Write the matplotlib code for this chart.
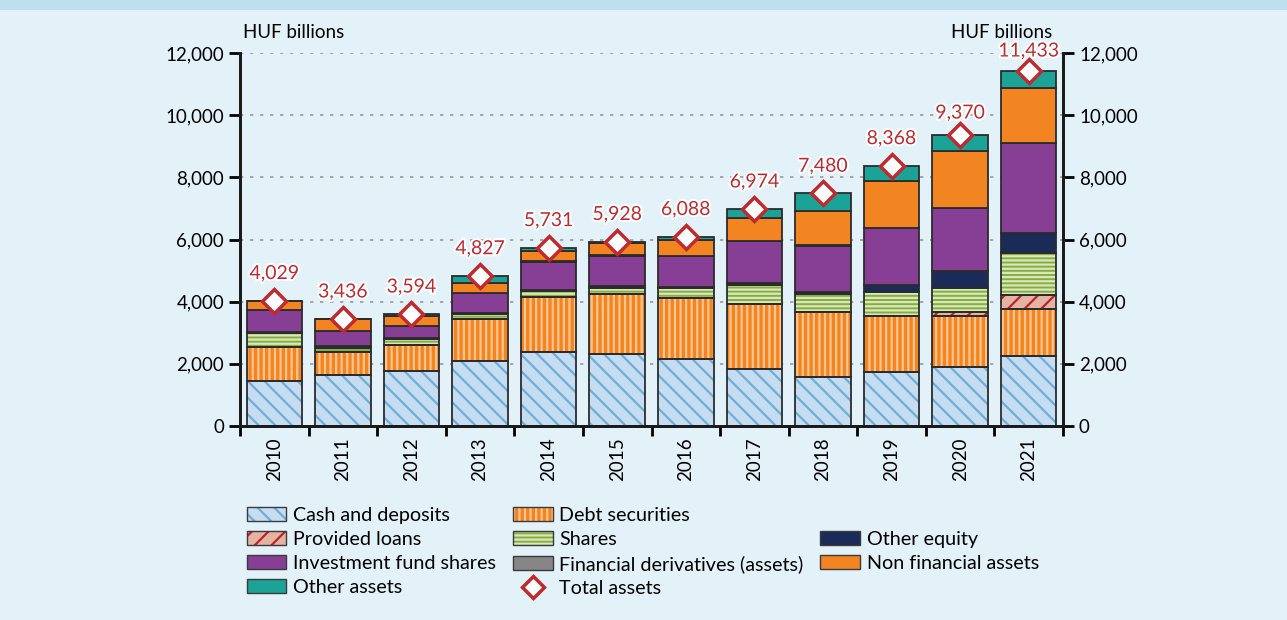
import matplotlib
matplotlib.use("Agg")
import matplotlib.pyplot as plt
import matplotlib.patheffects as pe
from matplotlib.patches import Rectangle
from matplotlib.lines import Line2D
from matplotlib.legend_handler import HandlerTuple
import numpy as np

plt.rcParams['font.family'] = ['Lato', 'DejaVu Sans']
plt.rcParams['hatch.linewidth'] = 1.6

years = ["2010", "2011", "2012", "2013", "2014", "2015", "2016", "2017", "2018", "2019", "2020", "2021"]

# HUF billions
cash = [1460, 1640, 1760, 2080, 2390, 2315, 2155, 1845, 1565, 1725, 1890, 2250]
debt = [1080, 740, 835, 1350, 1760, 1920, 1950, 2095, 2110, 1800, 1635, 1500]
loans = [0, 0, 0, 0, 0, 0, 0, 0, 0, 0, 130, 470]
shares = [440, 140, 195, 160, 190, 215, 325, 605, 580, 775, 795, 1330]
other_equity = [35, 40, 30, 40, 40, 40, 30, 40, 40, 245, 525, 670]
fund_shares = [720, 500, 400, 645, 910, 995, 1015, 1370, 1510, 1810, 2045, 2890]
derivatives = [5, 5, 5, 5, 5, 5, 5, 5, 5, 5, 5, 5]
non_fin = [290, 371, 320, 330, 330, 385, 500, 720, 1095, 1530, 1815, 1775]
other_assets = [0, 0, 49, 217, 106, 53, 108, 294, 575, 478, 530, 543]
totals = [4029, 3436, 3594, 4827, 5731, 5928, 6088, 6974, 7480, 8368, 9370, 11433]

# (label, values, face colour, hatch, hatch colour)
series = [
    ("Cash and deposits", cash, "#C6DCF0", "\\\\", "#6DAEDB"),
    ("Debt securities", debt, "#F5841F", "|||", "#FDC592"),
    ("Provided loans", loans, "#E4B3A2", "//", "#B8252B"),
    ("Shares", shares, "#86AD44", "----", "#D9E8B8"),
    ("Other equity", other_equity, "#1B2B57", "", None),
    ("Investment fund shares", fund_shares, "#873F95", "", None),
    ("Financial derivatives (assets)", derivatives, "#868686", "", None),
    ("Non financial assets", non_fin, "#F28522", "", None),
    ("Other assets", other_assets, "#1BA398", "", None),
]

bg = "#E3F1F9"
red = "#BF2A2E"
fs = 13.5

fig = plt.figure(figsize=(12.87, 6.2), dpi=100, facecolor=bg)
fig.patches.append(Rectangle((0, 1 - 10 / 620), 1, 10 / 620, transform=fig.transFigure,
                             facecolor="#BEDFF0", edgecolor="none"))
ax = fig.add_axes([240 / 1287, 1 - 426 / 620, 823 / 1287, 373 / 620])
ax.set_facecolor(bg)

x = np.arange(len(years))
w = 0.81
bottom = np.zeros(len(years))
handles = {}
for label, vals, fc, hatch, hc in series:
    vals = np.array(vals, dtype=float)
    if hatch:
        ax.bar(x, vals, w, bottom=bottom, color=fc, hatch=hatch, edgecolor=hc, linewidth=0, zorder=2)
        ax.bar(x, vals, w, bottom=bottom, fill=False, edgecolor="#2B2B2B", linewidth=1.3, zorder=3)
        face = Rectangle((0, 0), 1, 1, facecolor=fc, hatch=hatch, edgecolor=hc, linewidth=0)
        edge = Rectangle((0, 0), 1, 1, fill=False, edgecolor="#3A3A3A", linewidth=1)
        handles[label] = (face, edge)
    else:
        ax.bar(x, vals, w, bottom=bottom, color=fc, edgecolor="#2B2B2B", linewidth=1.3, zorder=3)
        handles[label] = Rectangle((0, 0), 1, 1, facecolor=fc, edgecolor="#3A3A3A", linewidth=1)
    bottom += vals

ax.plot(x, totals, linestyle="none", marker="D", markersize=12, markerfacecolor="white",
        markeredgecolor=red, markeredgewidth=2.5, zorder=5)
# last two labels sit a little closer to their markers, as in the original
label_gap = [13.5] * 10 + [9.5, 8]
for xi, t, g in zip(x, totals, label_gap):
    ax.annotate(f"{t:,}", (xi, t), xytext=(0, g), textcoords="offset points", ha="center",
                va="bottom", color=red, fontsize=14, zorder=6,
                path_effects=[pe.withStroke(linewidth=3, foreground="white")])

ax.set_xlim(-0.5, len(years) - 0.5)
ax.set_ylim(0, 12000)
ax.set_yticks(np.arange(0, 12001, 2000))
ax.set_yticklabels([f"{v:,}" for v in range(0, 12001, 2000)], fontsize=fs)
ax.yaxis.grid(True, linestyle=(0, (2, 4)), color="#9A9A9A", linewidth=1.2, zorder=0)
ax.set_axisbelow(True)

ax.set_xticks(x)
ax.set_xticklabels(years, rotation=90, fontsize=fs)
ax.tick_params(axis="x", length=0, pad=8)
ax.set_xticks(np.arange(-0.5, len(years)), minor=True)
ax.tick_params(axis="x", which="minor", length=7, width=2, direction="out")
ax.tick_params(axis="y", length=8, width=2, direction="out")

for s in ["left", "bottom", "right"]:
    ax.spines[s].set_linewidth(2)
    ax.spines[s].set_color("#1A1A1A")
ax.spines["top"].set_visible(False)

ax2 = ax.twinx()
ax2.set_ylim(0, 12000)
ax2.set_yticks(np.arange(0, 12001, 2000))
ax2.set_yticklabels([f"{v:,}" for v in range(0, 12001, 2000)], fontsize=fs)
ax2.tick_params(axis="y", length=8, width=2, direction="out")
for s in ["left", "bottom", "right"]:
    ax2.spines[s].set_linewidth(2)
    ax2.spines[s].set_color("#1A1A1A")
ax2.spines["top"].set_visible(False)

fig.text(243 / 1287, 1 - 33 / 620, "HUF billions", fontsize=fs, ha="left", va="center")
fig.text(1052 / 1287, 1 - 33 / 620, "HUF billions", fontsize=fs, ha="right", va="center")

blank = Rectangle((0, 0), 1, 1, facecolor="none", edgecolor="none")
diamond = Line2D([], [], linestyle="none", marker="D", markersize=11, markerfacecolor="white",
                 markeredgecolor=red, markeredgewidth=2.5)
leg_handles = [handles["Cash and deposits"], handles["Provided loans"], handles["Investment fund shares"],
               handles["Other assets"],
               handles["Debt securities"], handles["Shares"], handles["Financial derivatives (assets)"], diamond,
               blank, handles["Other equity"], handles["Non financial assets"], blank]
leg_labels = ["Cash and deposits", "Provided loans", "Investment fund shares", "Other assets",
              "Debt securities", "Shares", "Financial derivatives (assets)", "Total assets",
              "", "Other equity", "Non financial assets", ""]
fig.legend(leg_handles, leg_labels, ncol=3, loc="upper left", bbox_to_anchor=(247 / 1287, 1 - 507 / 620),
           frameon=False, fontsize=14.2, handlelength=2.0, handleheight=0.72, handletextpad=0.35,
           labelspacing=0.36, columnspacing=0.85, borderaxespad=0, borderpad=0,
           handler_map={tuple: HandlerTuple(ndivide=1, pad=0)})

fig.savefig("out.png", dpi=100, facecolor=bg)
